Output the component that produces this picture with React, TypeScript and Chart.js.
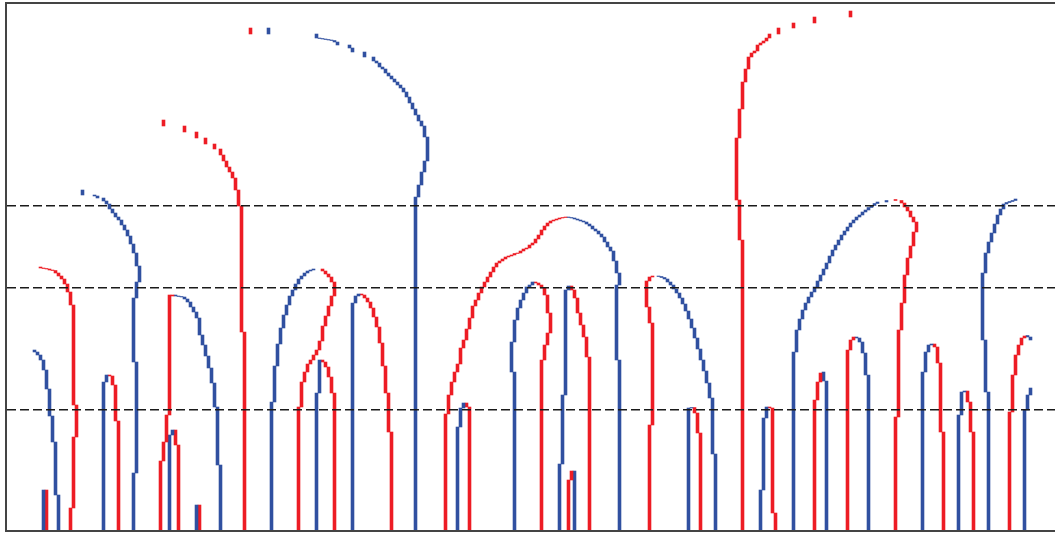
import React, { useEffect, useRef } from "react";
import { Chart, registerables } from "chart.js";

Chart.register(...registerables);

type Pt = [number, number]; // [column, height]

const N_COLUMNS = 350;
const COLUMNS = Array.from({ length: N_COLUMNS }, (_, i) => i);
const Y_MAX = 528;
const THRESHOLDS = [121, 243, 325];

const RED = "#ED1C24";
const BLUE = "#3050A0";

// Each curve: first point is the start height; every next point is a column and the height reached in it.
const blueA: Pt[] = [[9, 181], [9, 179], [10, 176], [11, 171], [12, 161], [13, 142], [14, 115], [15, 89], [16, 36], [17, 0]];
const blueA2: Pt[] = [[12, 0], [12, 41]];
const redA2: Pt[] = [[13, 41], [13, 0]];
const redB: Pt[] = [[11, 264], [11, 263], [12, 262.5], [13, 262], [14, 261], [15, 260.5], [16, 258], [17, 255], [18, 252], [19, 247], [20, 239], [21, 226], [22, 126], [23, 94], [22, 23], [21, 0]];
const blueC: Pt[] = [[25, 341], [25, 336], [29, 335], [30, 333], [32, 330], [33, 327], [34, 322], [35, 318], [36, 314], [37, 311], [38, 306], [39, 301], [40, 295], [41, 287], [42, 278], [43, 265], [44, 249], [43, 233], [42, 169], [43, 58], [42, 0]];
const blueD: Pt[] = [[32, 0], [32, 149], [33, 156]];
const redD: Pt[] = [[34, 156], [34, 155], [35, 146], [36, 110], [37, 0]];
const redE: Pt[] = [[52, 411], [52, 405], [59, 399], [63, 393], [66, 387], [69, 382], [71, 376], [72, 370], [73, 364], [74, 359], [75, 353], [76, 341], [77, 325], [78, 199], [79, 0]];
const redTop1: Pt[] = [[81, 503], [81, 497]];
const blueTop1: Pt[] = [[87, 503], [87, 497]];
const redF: Pt[] = [[51, 0], [51, 70], [52, 89], [53, 116], [54, 236], [55, 235]];
const blueF: Pt[] = [[56, 236], [56, 235], [57, 234.5], [58, 234], [59, 232], [60, 229], [61, 224], [62, 219], [63, 213], [64, 196], [65, 186], [66, 175], [67, 163], [68, 148], [69, 124], [70, 66], [71, 0]];
const blueF2: Pt[] = [[54, 0], [54, 96], [55, 101]];
const redF2: Pt[] = [[56, 101], [56, 86], [57, 0]];
const blueG2: Pt[] = [[63, 0], [63, 26]];
const redG2: Pt[] = [[64, 26], [64, 0]];
const blueH: Pt[] = [[88, 0], [88, 129], [89, 165], [90, 187], [91, 203], [92, 216], [93, 226], [94, 235], [95, 241], [96, 247], [97, 252], [98, 255], [99, 258], [100, 260], [101, 261], [102, 262]];
const redH: Pt[] = [[105, 262], [105, 260], [106, 257], [107, 254], [108, 249], [109, 235], [108, 225], [107, 215], [106, 205], [105, 190], [104, 181], [103, 176], [102, 171], [101, 167], [100, 159], [99, 149], [98, 124], [97, 0]];
const blueI: Pt[] = [[103, 0], [103, 138], [104, 171]];
const redI: Pt[] = [[105, 171], [105, 169], [106, 164], [107, 154], [108, 138], [109, 0]];
const blueJ: Pt[] = [[115, 0], [115, 228], [116, 235], [117, 237]];
const redJ: Pt[] = [[118, 237], [118, 236], [119, 233], [120, 229], [121, 223], [122, 214], [123, 204], [124, 188], [125, 165], [126, 138], [127, 99], [128, 0]];
const blueG: Pt[] = [[103, 497], [103, 493], [104, 492.5], [105, 492], [106, 491.5], [107, 491], [108, 490.5], [109, 489], [110, 486], [114, 483], [115, 479], [119, 474], [122, 470], [123, 468], [124, 464], [125, 462], [126, 458], [127, 455], [128, 452], [129, 449], [130, 446], [131, 443], [132, 439], [133, 434], [134, 428], [135, 422], [136, 416], [137, 410], [138, 405], [139, 394], [140, 370], [139, 359], [138, 346], [137, 334], [136, 0]];
const redL: Pt[] = [[146, 0], [146, 117], [147, 136], [148, 149], [149, 159], [150, 167], [151, 183], [152, 191], [153, 202], [154, 213], [155, 225], [156, 231], [157, 238], [158, 244], [159, 249], [160, 254], [161, 259], [162, 264], [163, 268], [164, 270], [165, 272], [166, 274], [167, 275], [168, 276], [169, 277.5], [170, 278], [171, 280], [172, 282], [173, 283], [174, 286], [175, 288], [176, 292], [177, 296], [178, 301], [179, 305], [180, 308], [181, 310], [182, 311], [183, 312], [184, 313], [185, 313.5], [186, 314]];
const blueL: Pt[] = [[187, 314], [187, 313.5], [188, 313], [189, 312], [190, 311], [191, 310], [192, 309], [193, 307], [194, 305], [195, 302], [196, 300], [197, 297], [198, 294], [199, 289], [200, 284], [201, 280], [202, 270], [203, 258], [204, 246], [203, 171], [204, 0]];
const blueM: Pt[] = [[169, 0], [169, 159], [168, 189], [169, 211], [170, 223], [171, 231], [172, 238], [173, 244], [174, 246], [175, 249]];
const redM: Pt[] = [[176, 249], [176, 248], [177, 246], [178, 243], [179, 236], [180, 218], [181, 198], [180, 186], [179, 171], [178, 0]];
const blueN: Pt[] = [[150, 0], [150, 104], [151, 123], [152, 128]];
const redN: Pt[] = [[153, 128], [153, 124], [154, 0]];
const blueO: Pt[] = [[184, 0], [184, 67], [185, 136], [186, 241], [187, 245]];
const redO: Pt[] = [[188, 245], [188, 241], [189, 233], [190, 218], [191, 206], [192, 194], [193, 174], [194, 0]];
const redP: Pt[] = [[187, 0], [187, 51], [188, 60]];
const blueP: Pt[] = [[189, 60], [189, 0]];
const redQ: Pt[] = [[214, 0], [214, 106], [215, 208], [214, 224], [213, 250], [214, 254], [215, 255]];
const blueQ: Pt[] = [[217, 255], [217, 254.5], [218, 253.5], [219, 252], [220, 249], [221, 246], [222, 242], [223, 238], [224, 233], [225, 227], [226, 220], [227, 212], [228, 203], [229, 193], [230, 182], [231, 171], [232, 160], [233, 148], [234, 133], [235, 77], [236, 0]];
const blueR: Pt[] = [[227, 0], [227, 123], [228, 123.5]];
const redR: Pt[] = [[229, 123.5], [229, 118], [230, 98], [231, 0]];
const redS: Pt[] = [[245, 0], [245, 291], [244, 331], [243, 393], [244, 422], [245, 449], [246, 462], [247, 474], [248, 478], [249, 480], [250, 486], [251, 488], [252, 490], [253, 493], [254, 497], [257, 503], [262, 508], [269, 514], [281, 520]];
const blueT: Pt[] = [[251, 0], [251, 41], [252, 113], [253, 124]];
const redT: Pt[] = [[254, 124], [254, 123], [255, 18], [256, 0]];
const blueU: Pt[] = [[262, 0], [262, 179], [263, 201], [264, 212], [265, 221], [266, 228], [267, 234], [268, 239], [269, 244], [270, 250], [271, 256], [272, 262], [273, 268], [274, 275], [275, 281], [276, 286], [277, 291], [278, 296], [279, 300], [280, 304], [281, 308], [282, 311], [283, 314], [284, 316], [285, 319], [286, 321], [287, 323.5], [288, 325.5], [289, 327.5], [290, 329], [293, 330.5]];
const redU: Pt[] = [[296, 331.5], [296, 330.5], [298, 328], [299, 324], [300, 320], [301, 314], [302, 309], [303, 299], [302, 285], [301, 273], [300, 256], [299, 228], [298, 201], [297, 114], [296, 0]];
const redV: Pt[] = [[269, 0], [269, 131], [270, 149], [271, 158]];
const blueV: Pt[] = [[272, 159], [272, 150], [273, 0]];
const redW: Pt[] = [[280, 0], [280, 181], [281, 191], [282, 194]];
const blueW: Pt[] = [[283, 194], [283, 193], [284, 189], [285, 178], [286, 156], [287, 0]];
const blueX: Pt[] = [[305, 0], [305, 159], [306, 179], [307, 186], [308, 187]];
const redX: Pt[] = [[309, 187], [309, 184], [310, 168], [311, 99], [312, 0]];
const blueY: Pt[] = [[317, 0], [317, 116], [318, 139], [319, 140]];
const redY: Pt[] = [[320, 140], [320, 129], [321, 99], [322, 0]];
const blueZ: Pt[] = [[327, 0], [327, 139], [326, 191], [325, 258], [326, 278], [327, 289], [328, 298], [329, 307], [330, 316], [331, 322], [332, 327], [333, 328.5], [334, 329.5], [335, 330.5], [336, 332]];
const redAA: Pt[] = [[334, 0], [334, 119], [335, 156], [336, 176], [337, 186], [338, 193], [339, 195]];
const blueAA: Pt[] = [[340, 195.5], [340, 194], [341, 191]];
const blueAB: Pt[] = [[339, 0], [339, 121], [340, 136], [341, 143]];

const SERIES: { pts: Pt[]; color: string }[] = [
  { pts: blueA, color: BLUE }, { pts: blueA2, color: BLUE }, { pts: redA2, color: RED },
  { pts: redB, color: RED }, { pts: blueC, color: BLUE }, { pts: blueD, color: BLUE },
  { pts: redD, color: RED }, { pts: redE, color: RED }, { pts: redTop1, color: RED },
  { pts: blueTop1, color: BLUE }, { pts: redF, color: RED }, { pts: blueF, color: BLUE },
  { pts: blueF2, color: BLUE }, { pts: redF2, color: RED }, { pts: blueG2, color: BLUE },
  { pts: redG2, color: RED }, { pts: blueH, color: BLUE }, { pts: redH, color: RED },
  { pts: blueI, color: BLUE }, { pts: redI, color: RED }, { pts: blueJ, color: BLUE },
  { pts: redJ, color: RED }, { pts: blueG, color: BLUE }, { pts: redL, color: RED },
  { pts: blueL, color: BLUE }, { pts: blueM, color: BLUE }, { pts: redM, color: RED },
  { pts: blueN, color: BLUE }, { pts: redN, color: RED }, { pts: blueO, color: BLUE },
  { pts: redO, color: RED }, { pts: redP, color: RED }, { pts: blueP, color: BLUE },
  { pts: redQ, color: RED }, { pts: blueQ, color: BLUE }, { pts: blueR, color: BLUE },
  { pts: redR, color: RED }, { pts: redS, color: RED }, { pts: blueT, color: BLUE },
  { pts: redT, color: RED }, { pts: blueU, color: BLUE }, { pts: redU, color: RED },
  { pts: redV, color: RED }, { pts: blueV, color: BLUE }, { pts: redW, color: RED },
  { pts: blueW, color: BLUE }, { pts: blueX, color: BLUE }, { pts: redX, color: RED },
  { pts: blueY, color: BLUE }, { pts: redY, color: RED }, { pts: blueZ, color: BLUE },
  { pts: redAA, color: RED }, { pts: blueAA, color: BLUE }, { pts: blueAB, color: BLUE },
];

function toBars(pts: Pt[]) {
  const out: { x: number; y: [number, number] }[] = [];
  for (let i = 1; i < pts.length; i++) {
    out.push({ x: pts[i][0], y: [pts[i - 1][1], pts[i][1]] });
  }
  return out;
}

export default function App() {
  const ref = useRef<HTMLCanvasElement | null>(null);
  useEffect(() => {
    if (!ref.current) return;
    const frame = { display: true, color: "#444", width: 2, z: 1 };
    const chart = new Chart(ref.current, {
      type: "bar",
      data: {
        labels: COLUMNS,
        datasets: SERIES.map((s) => ({
          data: toBars(s.pts) as any,
          backgroundColor: s.color,
          borderWidth: 0,
          grouped: false,
          barPercentage: 1,
          categoryPercentage: 1,
          inflateAmount: 0.3,
        })),
      },
      options: {
        responsive: false,
        animation: false,
        events: [],
        layout: { padding: { left: 6, top: 3, right: 0, bottom: 2 } },
        plugins: { legend: { display: false }, tooltip: { enabled: false } },
        scales: {
          x: {
            type: "category",
            offset: true,
            ticks: { display: false },
            grid: { display: false, drawTicks: false },
            border: frame,
          },
          xTop: {
            type: "linear",
            axis: "x",
            position: "top",
            min: 0,
            max: 1,
            ticks: { display: false },
            grid: { display: false, drawTicks: false },
            border: frame,
          },
          y: {
            type: "linear",
            min: 0,
            max: Y_MAX,
            ticks: { display: false },
            afterBuildTicks: (scale: any) => {
              scale.ticks = THRESHOLDS.map((v) => ({ value: v }));
            },
            grid: { drawTicks: false, color: "#1a1a1a", lineWidth: 1.5, z: 1 },
            border: { ...frame, dash: [9, 4] },
          },
        },
      } as any,
    });
    return () => chart.destroy();
  }, []);
  return (
    <div style={{ position: "absolute", left: 0, top: 0, width: 1055, height: 533, overflow: "hidden", background: "#fff" }}>
      <canvas ref={ref} width={1056} height={533} style={{ display: "block" }} />
    </div>
  );
}
